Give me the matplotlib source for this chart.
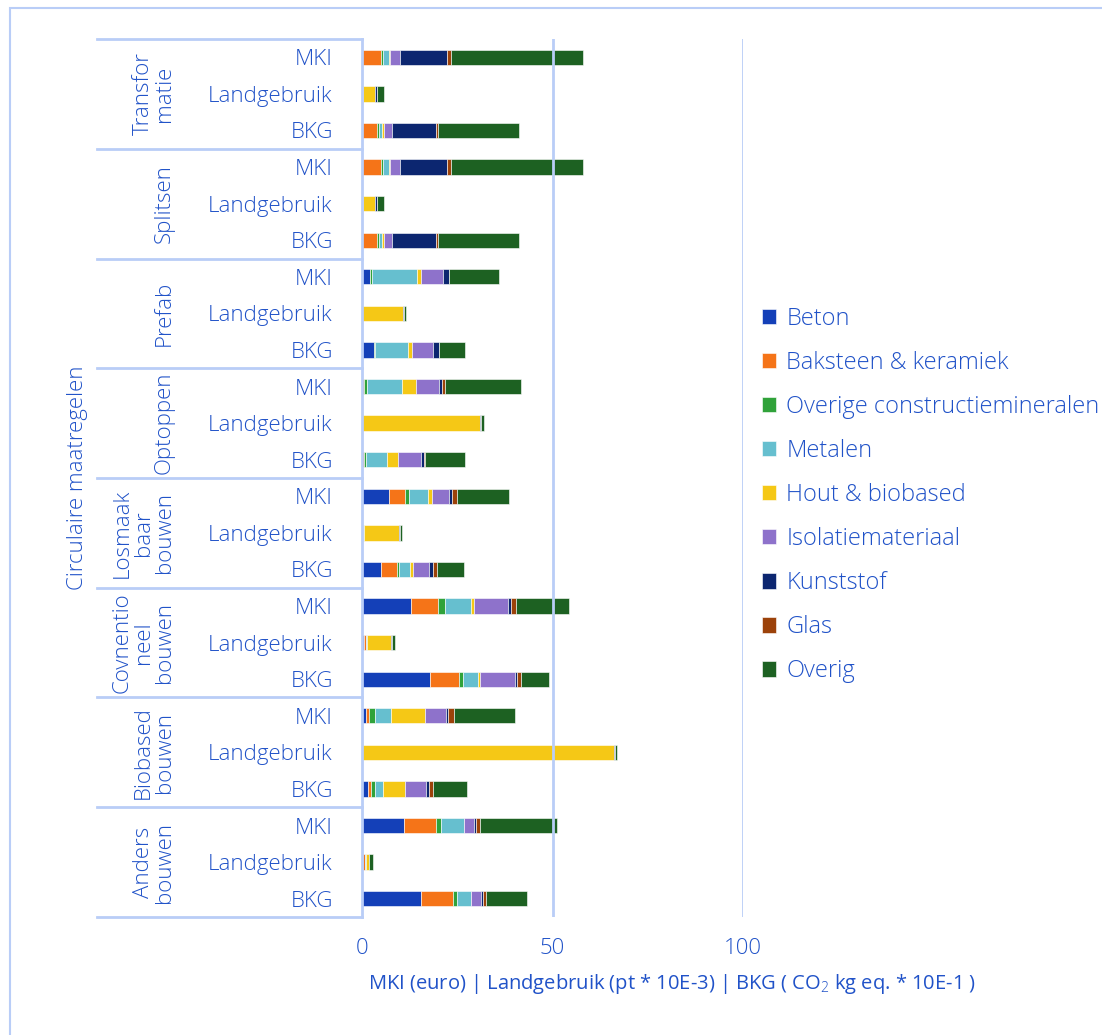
import numpy as np
import matplotlib
matplotlib.use("Agg")
import matplotlib.pyplot as plt
from matplotlib.patches import Rectangle
from matplotlib.lines import Line2D
import matplotlib.transforms as mtransforms

plt.rcParams['font.family'] = ['Open Sans', 'DejaVu Sans']
plt.rcParams['font.weight'] = 'light'
plt.rcParams['mathtext.fontset'] = 'custom'
plt.rcParams['mathtext.rm'] = 'Open Sans:light'

# Groups (top to bottom) and the three indicators per group
groups = ["Transfor\nmatie", "Splitsen", "Prefab", "Optoppen",
          "Losmaak\nbaar\nbouwen", "Covnentio\nneel\nbouwen",
          "Biobased\nbouwen", "Anders\nbouwen"]
indicators = ["MKI", "Landgebruik", "BKG"]

materials = ["Beton", "Baksteen & keramiek", "Overige constructiemineralen",
             "Metalen", "Hout & biobased", "Isolatiemateriaal", "Kunststof",
             "Glas", "Overig"]

# values per material, rows ordered group by group: MKI, Landgebruik, BKG
beton = [0, 0, 0, 0, 0, 0, 2.1, 0, 3.15, 0, 0, 0,
         7.0, 0, 4.9, 12.8, 0.5, 17.9, 1.15, 0, 1.6, 11.05, 0.35, 15.45]
baksteen = [4.9, 0, 3.95, 4.9, 0, 3.95, 0, 0, 0, 0.5, 0, 0.45,
            4.3, 0.25, 4.3, 7.2, 0.6, 7.45, 0.8, 0, 0.7, 8.4, 0.45, 8.5]
overige_min = [0.6, 0.1, 0.45, 0.6, 0.1, 0.45, 0.45, 0, 0.25, 0.7, 0, 0.5,
               1.0, 0, 0.45, 1.75, 0, 1.2, 1.4, 0, 1.05, 1.2, 0, 0.95]
metalen = [1.5, 0.15, 0.9, 1.5, 0.15, 0.9, 11.8, 0, 8.7, 9.4, 0, 5.7,
           5.0, 0.35, 2.9, 6.85, 0.25, 3.95, 4.2, 0, 2.1, 6.0, 0.35, 3.6]
hout = [0.35, 3.1, 0.4, 0.35, 3.1, 0.4, 1.2, 10.8, 0.95, 3.6, 31.1, 2.7,
        1.15, 9.1, 0.8, 0.8, 6.3, 0.6, 8.95, 66.05, 5.9, 0, 0.6, 0]
isolatie = [2.5, 0, 2.3, 2.5, 0, 2.3, 5.6, 0, 5.7, 6.0, 0, 6.1,
            4.3, 0, 4.3, 8.8, 0, 9.0, 5.45, 0, 5.5, 2.7, 0, 2.7]
kunststof = [12.5, 0.5, 11.3, 12.5, 0.5, 11.3, 1.65, 0.15, 1.4, 0.8, 0.25, 0.7,
             0.9, 0.25, 0.9, 0.8, 0.25, 0.6, 0.7, 0.25, 0.7, 0.7, 0.2, 0.5]
glas = [1.05, 0.05, 0.7, 1.05, 0.05, 0.7, 0, 0, 0, 0.7, 0, 0.5,
        1.4, 0, 1.05, 1.4, 0, 1.05, 1.4, 0, 1.05, 1.05, 0, 0.9]
overig = [34.7, 1.8, 21.3, 34.7, 1.8, 21.3, 13.2, 0.6, 7.0, 20.1, 0.8, 10.5,
          13.5, 0.5, 7.1, 13.8, 0.7, 7.4, 16.2, 0.7, 9.0, 20.0, 0.95, 10.6]

series = [beton, baksteen, overige_min, metalen, hout, isolatie, kunststof, glas, overig]
colors = ["#1440b8", "#f57418", "#30a23a", "#66bfcf", "#f5c816",
          "#8e72cb", "#0c2670", "#9c420a", "#1d6122"]

txt_col = "#2052c8"
line_col = "#b9cdf7"
fs = 16

fig = plt.figure(figsize=(11.02, 10.35), dpi=100)
W, H = 1102, 1035

# outer frame of the chart area (runs off the right and bottom edges)
fig.patches.append(Rectangle((10 / W, -0.2), 1.2, (H - 8) / H + 0.2,
                             transform=fig.transFigure, fill=False,
                             edgecolor=line_col, linewidth=1.5))

ax = fig.add_axes([362 / W, (H - 917) / H, 381 / W, 878 / H])

n = len(beton)
y = np.arange(n) + 0.5
left = np.zeros(n)
for vals, col, name in zip(series, colors, materials):
    vals = np.array(vals)
    ax.barh(y, vals, left=left, height=0.42, color=col, label=name,
            edgecolor="white", linewidth=0.4)
    left += vals

ax.set_xlim(0, 100)
ax.set_ylim(n, 0)
ax.set_xticks([0, 50, 100])
ax.set_xticklabels(["0", "50", "100"])
ax.set_yticks(y)
ax.set_yticklabels(indicators * len(groups))
ax.tick_params(axis="both", length=0, labelsize=fs, labelcolor=txt_col)
ax.tick_params(axis="y", pad=21)
ax.tick_params(axis="x", pad=15)
for side in ["top", "right", "bottom"]:
    ax.spines[side].set_visible(False)
ax.spines["left"].set_color(line_col)
ax.spines["left"].set_linewidth(2)
ax.axvline(50, color=line_col, linewidth=2)
ax.axvline(100, color=line_col, linewidth=2)

# group separators and group labels
trans = mtransforms.blended_transform_factory(ax.transAxes, ax.transData)
x_sep = (97 - 362) / 381
for k in range(len(groups) + 1):
    ax.add_line(Line2D([x_sep, 0], [3 * k, 3 * k], transform=trans,
                       color=line_col, linewidth=2, clip_on=False))
x_grp = (175 - 362) / 381
for k, g in enumerate(groups):
    ax.text(x_grp, 3 * k + 1.5, g, transform=trans, rotation=90,
            ha="right", va="center", multialignment="center",
            fontsize=fs, color=txt_col, linespacing=1.0)

ax.text((78 - 362) / 381, 0.5, "Circulaire maatregelen", transform=ax.transAxes,
        rotation=90, ha="center", va="center", fontsize=fs, color=txt_col)

ax.set_xlabel("MKI (euro) | Landgebruik (pt * 10E-3) | BKG ( CO$_2$ kg eq. * 10E-1 )",
              fontsize=14.5, color=txt_col)
ax.xaxis.set_label_coords((672 - 362) / 381, -(972 - 917) / 878)

fig.legend(loc="upper left", bbox_to_anchor=(750 / W, (H - 295) / H),
           frameon=False, fontsize=17, labelcolor=txt_col,
           handlelength=0.62, handleheight=0.62, handletextpad=0.42,
           labelspacing=0.85, borderpad=0)

fig.savefig("out.png", dpi=100)
